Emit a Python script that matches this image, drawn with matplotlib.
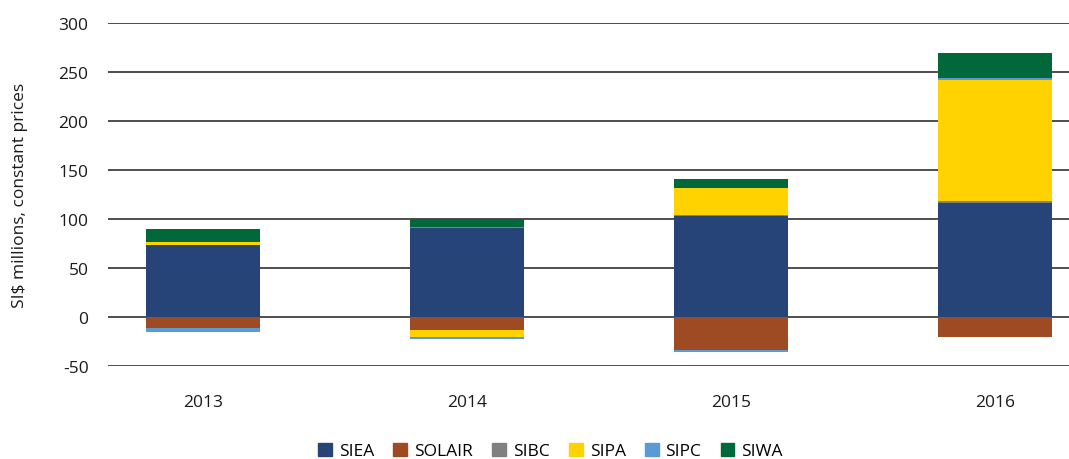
import numpy as np
import matplotlib
matplotlib.use("Agg")
import matplotlib.pyplot as plt
from matplotlib.patches import Patch

plt.rcParams["font.family"] = ["Open Sans", "DejaVu Sans"]
plt.rcParams["axes.unicode_minus"] = False

YEARS = ["2013", "2014", "2015", "2016"]
SERIES = ["SIEA", "SOLAIR", "SIBC", "SIPA", "SIPC", "SIWA"]
SIEA = [73, 91, 103, 116]
SOLAIR = [-11, -13, -34, -20]
SIBC = [0, 1, 1.5, 2]
SIPA = [4, -7, 27, 124]
SIPC = [-4, -2, -2, 2]
SIWA = [13, 8, 9, 25.5]
COLORS = ["#264478", "#9e4a23", "#808080", "#ffd200", "#5b9bd5", "#00683a"]

values = [SIEA, SOLAIR, SIBC, SIPA, SIPC, SIWA]

fig = plt.figure(figsize=(10.69, 4.6), dpi=100)
ax = fig.add_axes([0.101, 0.202, 0.899, 0.746])

x = np.arange(len(YEARS))
pos_base = np.zeros(len(YEARS))
neg_base = np.zeros(len(YEARS))
for vals, color in zip(values, COLORS):
    v = np.array(vals, dtype=float)
    base = np.where(v >= 0, pos_base, neg_base)
    ax.bar(x, v, bottom=base, width=0.432, color=color, lw=0, zorder=3)
    pos_base += np.where(v >= 0, v, 0)
    neg_base += np.where(v < 0, v, 0)

ax.set_xlim(-0.36, 3.28)
ax.set_ylim(-50, 300)
ax.set_yticks(np.arange(-50, 301, 50))
ax.set_xticks(x)
ax.set_xticklabels(YEARS)
ax.grid(axis="y", color="#404040", lw=1.3, zorder=0)
for s in ax.spines.values():
    s.set_visible(False)
ax.tick_params(length=0, labelsize=12.5, colors="#1a1a1a")
ax.tick_params(axis="x", pad=20)
ax.tick_params(axis="y", pad=14)
ax.set_ylabel("SI$ millions, constant prices", fontsize=12.5, color="#1a1a1a",
              labelpad=22)

handles = [Patch(color=c, label=n) for n, c in zip(SERIES, COLORS)]
fig.legend(handles=handles, loc="lower center", bbox_to_anchor=(0.515, -0.035),
           ncol=6, frameon=False, fontsize=12.5, handlelength=0.8,
           handleheight=0.8, handletextpad=0.4, columnspacing=1.1)

fig.savefig("out.png", dpi=100)
